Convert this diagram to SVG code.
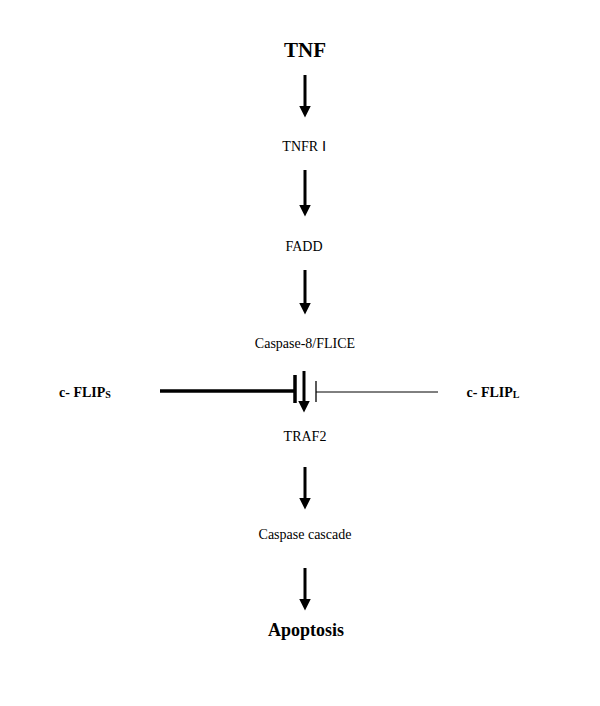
<svg xmlns="http://www.w3.org/2000/svg" width="600" height="706" viewBox="0 0 600 706">
<style>
text{font-family:"Liberation Serif",serif;fill:#000;text-anchor:middle}
.n{font-size:14px}
.a{stroke:#000;stroke-width:3;fill:none}
</style>
<defs><marker id="h" markerWidth="4" markerHeight="4" refX="1.5" refY="2" orient="auto"><path d="M0,0 L4,2 L0,4Z"/></marker></defs>
<rect width="600" height="706" fill="#fff"/>
<g id="tnf"><text x="305" y="57" font-size="21" font-weight="bold">TNF</text></g>
<g id="tnfr"><text class="n" x="304" y="151">TNFR Ⅰ</text></g>
<g id="fadd"><text class="n" x="304" y="251">FADD</text></g>
<g id="casp8"><text class="n" x="305" y="348">Caspase-8/FLICE</text></g>
<g id="traf2"><text class="n" x="305" y="441">TRAF2</text></g>
<g id="cascade"><text class="n" x="305" y="539">Caspase cascade</text></g>
<g id="apoptosis"><text x="306" y="636" font-size="18" font-weight="bold">Apoptosis</text></g>
<g id="flips"><text x="85" y="397" font-size="14" font-weight="bold">c- FLIP<tspan font-size="10" dy="1">S</tspan></text></g>
<g id="flipl"><text x="493" y="397" font-size="14" font-weight="bold">c- FLIP<tspan font-size="10" dy="1">L</tspan></text></g>
<g id="connectors">
<line class="a" x1="305" y1="75" x2="305" y2="110" marker-end="url(#h)"/>
<line class="a" x1="305" y1="170" x2="305" y2="209" marker-end="url(#h)"/>
<line class="a" x1="305" y1="270" x2="305" y2="307" marker-end="url(#h)"/>
<line class="a" x1="304" y1="371" x2="304" y2="405" marker-end="url(#h)"/>
<line class="a" x1="305" y1="467" x2="305" y2="502" marker-end="url(#h)"/>
<line class="a" x1="305" y1="568" x2="305" y2="603" marker-end="url(#h)"/>
<line x1="160" y1="391" x2="295" y2="391" stroke="#000" stroke-width="3.5"/>
<line x1="295" y1="375" x2="295" y2="403" stroke="#000" stroke-width="3.5"/>
<line x1="316" y1="392" x2="438" y2="392" stroke="#000" stroke-width="1"/>
<line x1="316" y1="381" x2="316" y2="402" stroke="#000" stroke-width="1.3"/>
</g>
</svg>
